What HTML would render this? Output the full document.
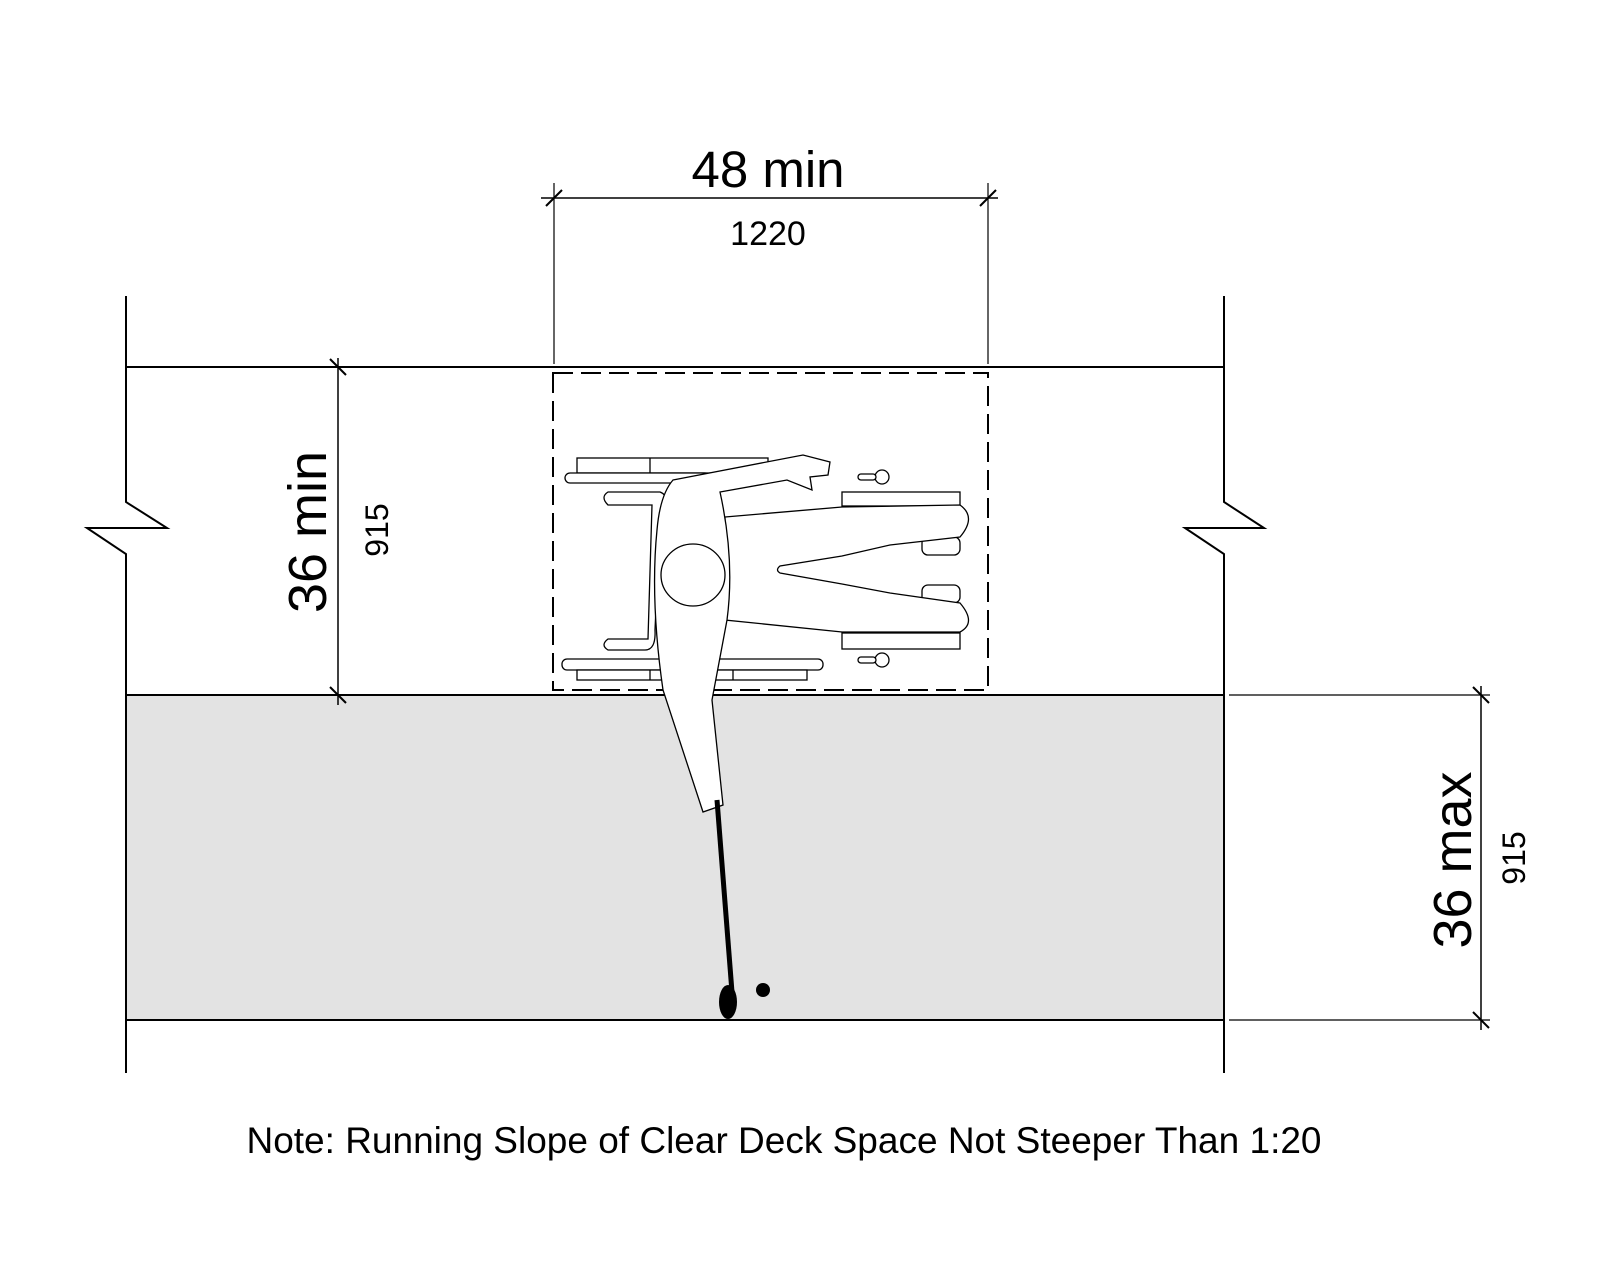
<!DOCTYPE html>
<html><head><meta charset="utf-8"><style>
html,body{margin:0;padding:0;background:#fff;}
svg{display:block;}
text{font-family:"Liberation Sans",sans-serif;fill:#000;}
</style></head><body>
<svg width="1600" height="1280" viewBox="0 0 1600 1280" xmlns="http://www.w3.org/2000/svg">
<rect width="1600" height="1280" fill="#fff"/>
<rect x="126" y="695" width="1098" height="325" fill="#e3e3e3"/>
<g stroke="#000" stroke-width="2" fill="none">
<polyline points="126,296 126,502 167,528 87,528 126,554 126,1073"/>
<polyline points="1224,296 1224,502 1264,528 1185,528 1224,554 1224,1073"/>
<line x1="126" y1="367" x2="1224" y2="367"/>
<line x1="126" y1="695" x2="1224" y2="695"/>
<line x1="126" y1="1020" x2="1224" y2="1020"/>
<rect x="553" y="373" width="435" height="317" stroke-dasharray="20,8"/>
<line x1="541" y1="198" x2="998" y2="198" stroke-width="1.5"/>
<line x1="554" y1="183" x2="554" y2="364" stroke-width="1.2"/>
<line x1="988" y1="183" x2="988" y2="364" stroke-width="1.2"/>
<line x1="546" y1="206" x2="562" y2="190"/>
<line x1="980" y1="206" x2="996" y2="190"/>
<line x1="338" y1="358" x2="338" y2="705" stroke-width="1.5"/>
<line x1="330" y1="359" x2="346" y2="375"/>
<line x1="330" y1="687" x2="346" y2="703"/>
<line x1="1481" y1="686" x2="1481" y2="1030" stroke-width="1.5"/>
<line x1="1229" y1="695" x2="1490" y2="695" stroke-width="1.2"/>
<line x1="1229" y1="1020" x2="1490" y2="1020" stroke-width="1.2"/>
<line x1="1473" y1="687" x2="1489" y2="703"/>
<line x1="1473" y1="1012" x2="1489" y2="1028"/>
</g>
<g stroke="#000" stroke-width="1.3" fill="#fff">
<rect x="577" y="458" width="191" height="15"/>
<line x1="650" y1="458" x2="650" y2="473"/>
<rect x="565" y="473" width="145" height="10" rx="5"/>
<rect x="562" y="659" width="261" height="11" rx="5"/>
<rect x="577" y="670" width="230" height="10"/>
<line x1="650" y1="670" x2="650" y2="680"/><line x1="733" y1="670" x2="733" y2="680"/>
<path d="M608,492 H660 Q668,495 665,505 L660,520 L655,630 Q656,650 645,650 H608 Q600,645 608,639 H648 L652,505 H608 Q600,497 608,492Z"/>
<rect x="842" y="492" width="118" height="14"/>
<rect x="842" y="633" width="118" height="16"/>
<rect x="922" y="537" width="38" height="18" rx="6"/>
<rect x="922" y="585" width="38" height="18" rx="6"/>
<circle cx="882" cy="477" r="7"/><circle cx="882" cy="660" r="7"/>
<rect x="858" y="474" width="18" height="6" rx="3"/><rect x="858" y="657" width="18" height="6" rx="3"/>
</g>
<g stroke="#000" stroke-width="1.3" fill="#fff">
<path d="M725,517 L842,507 L960,505 Q977,517 960,537 L890,545 L842,556 L780,566 Q775,570 780,573 L842,584 L890,593 L960,603 Q977,623 960,632 L842,632 L725,620Z"/>
<path d="M673,480 L803,455 L830,462 L828,475 L810,477 L812,490 L787,480 L720,492 Q735,560 727,620 L712,700 L723,805 L703,812 L663,690 Q650,600 657,530 Q660,495 673,480Z"/>
<ellipse cx="693" cy="575" rx="32" ry="31"/>
</g>
<line x1="717" y1="800" x2="733" y2="1005" stroke="#000" stroke-width="5"/>
<ellipse cx="728" cy="1002" rx="9" ry="17" fill="#000"/>
<circle cx="763" cy="990" r="7" fill="#000"/>
<text x="768" y="187" font-size="51" text-anchor="middle">48 min</text>
<text x="768" y="245" font-size="34" text-anchor="middle">1220</text>
<text transform="translate(326,532) rotate(-90)" font-size="54" text-anchor="middle">36 min</text>
<text transform="translate(388,530) rotate(-90)" font-size="32" text-anchor="middle">915</text>
<text transform="translate(1471,860) rotate(-90)" font-size="54" text-anchor="middle">36 max</text>
<text transform="translate(1525,858) rotate(-90)" font-size="32" text-anchor="middle">915</text>
<text x="784" y="1153" font-size="37" text-anchor="middle">Note: Running Slope of Clear Deck Space Not Steeper Than 1:20</text>
</svg>
</body></html>
